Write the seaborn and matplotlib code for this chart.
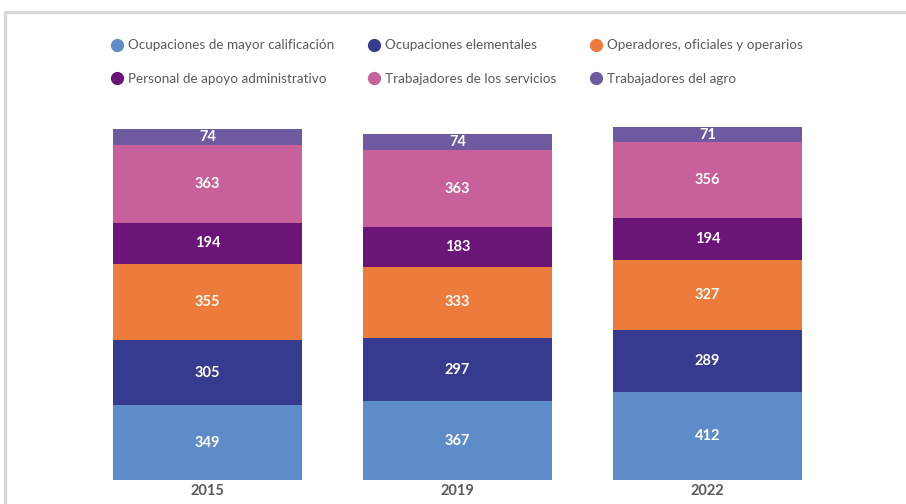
import matplotlib
matplotlib.use("Agg")
from matplotlib import pyplot as plt
from matplotlib.lines import Line2D
import seaborn as sns
import pandas as pd
import numpy as np

years = ['2015', '2019', '2022']
# bottom to top
categories = ['Ocupaciones de mayor calificación', 'Ocupaciones elementales',
              'Operadores, oficiales y operarios', 'Personal de apoyo administrativo',
              'Trabajadores de los servicios', 'Trabajadores del agro']
mayor = [349, 367, 412]
elementales = [305, 297, 289]
operadores = [355, 333, 327]
apoyo = [194, 183, 194]
servicios = [363, 363, 356]
agro = [74, 74, 71]
colors = ['#5E8CC8', '#363B8F', '#EC7B3C', '#6A1577', '#C8609B', '#6E5AA1']

sns.set_theme(style='white')
plt.rcParams['font.family'] = ['Lato', 'DejaVu Sans']

series = [mayor, elementales, operadores, apoyo, servicios, agro]
df = pd.DataFrame({'year': np.repeat(years, len(categories)),
                   'cat': categories * len(years),
                   'value': [series[j][i] for i in range(len(years)) for j in range(len(categories))]})
df['top'] = df.groupby('year')['value'].cumsum()
df['bottom'] = df['top'] - df['value']

fig = plt.figure(figsize=(9.06, 5.04), dpi=100)
ax = fig.add_axes([20 / 906, 24 / 504, 870 / 906, 380 / 504])

# draw cumulative bars from the top layer down
for cat, col in reversed(list(zip(categories, colors))):
    sub = df[df['cat'] == cat]
    sns.barplot(data=sub, x='year', y='top', color=col, width=0.756, ax=ax,
                saturation=1, order=years, linewidth=0, edgecolor=col)

for _, r in df.iterrows():
    xi = years.index(r['year'])
    ax.text(xi, (r['top'] + r['bottom']) / 2, str(r['value']), ha='center', va='center',
            color='white', fontsize=10.5, fontweight='bold')

ax.set_xlim((20 - 207.5) / 250, (890 - 207.5) / 250)
ax.set_ylim(0, 380 / 0.214)
ax.set_xlabel('')
ax.set_ylabel('')
ax.set_yticks([])
ax.tick_params(axis='x', length=0, pad=3)
for lab in ax.get_xticklabels():
    lab.set_fontweight('bold')
    lab.set_color('#595959')
    lab.set_fontsize(10.5)
sns.despine(ax=ax, left=True, bottom=True)

handles = [Line2D([], [], marker='o', linestyle='', markersize=8.5, color=c) for c in colors]
order = [0, 3, 1, 4, 2, 5]
leg = fig.legend([handles[i] for i in order], [categories[i] for i in order],
                 loc='upper left', bbox_to_anchor=(101 / 906, 1 - 34 / 504), ncol=3,
                 frameon=False, fontsize=9.7, labelcolor='#595959', handletextpad=0.0,
                 handlelength=1.6, columnspacing=2.15, labelspacing=1.62, borderaxespad=0)

# light frame
fig.add_artist(Line2D([5 / 906, 1], [1 - 12 / 504, 1 - 12 / 504], color='#d9d9d9', lw=2.5,
                      transform=fig.transFigure))
fig.add_artist(Line2D([5 / 906, 5 / 906], [0, 1 - 12 / 504], color='#d9d9d9', lw=2.5,
                      transform=fig.transFigure))

fig.savefig('out.png', dpi=100)
